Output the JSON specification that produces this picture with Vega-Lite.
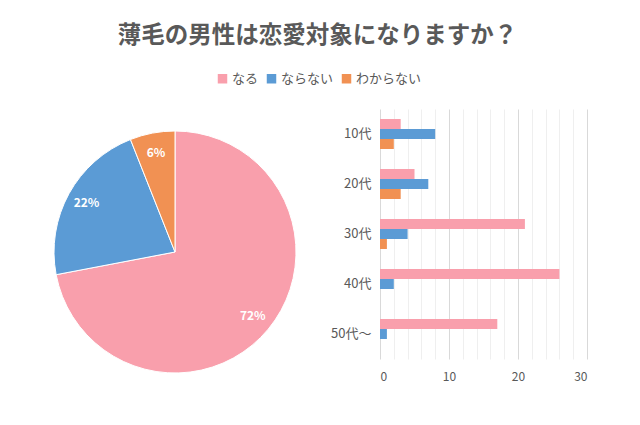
{
  "$schema": "https://vega.github.io/schema/vega-lite/v6.json",
  "background": "white",
  "padding": {"left": 20, "top": 23, "right": 10, "bottom": 10},
  "title": {
    "text": "薄毛の男性は恋愛対象になりますか？",
    "fontSize": 23.5,
    "fontWeight": "bold",
    "color": "#595959",
    "anchor": "middle",
    "dx": 14,
    "offset": 25
  },
  "datasets": {
    "pie": [
      {"category": "なる", "value": 72, "label": "72%", "idx": 1},
      {"category": "ならない", "value": 22, "label": "22%", "idx": 2},
      {"category": "わからない", "value": 6, "label": "6%", "idx": 3}
    ],
    "bars": [
      {"age": "10代", "category": "なる", "value": 3},
      {"age": "10代", "category": "ならない", "value": 8},
      {"age": "10代", "category": "わからない", "value": 2},
      {"age": "20代", "category": "なる", "value": 5},
      {"age": "20代", "category": "ならない", "value": 7},
      {"age": "20代", "category": "わからない", "value": 3},
      {"age": "30代", "category": "なる", "value": 21},
      {"age": "30代", "category": "ならない", "value": 4},
      {"age": "30代", "category": "わからない", "value": 1},
      {"age": "40代", "category": "なる", "value": 26},
      {"age": "40代", "category": "ならない", "value": 2},
      {"age": "40代", "category": "わからない", "value": 0},
      {"age": "50代〜", "category": "なる", "value": 17},
      {"age": "50代〜", "category": "ならない", "value": 1},
      {"age": "50代〜", "category": "わからない", "value": 0}
    ]
  },
  "spacing": 0,
  "hconcat": [
    {
      "width": 310,
      "height": 286,
      "data": {"name": "pie"},
      "encoding": {
        "theta": {"field": "value", "type": "quantitative", "stack": true},
        "order": {"field": "idx", "type": "quantitative"},
        "color": {
          "field": "category",
          "type": "nominal",
          "scale": {"domain": ["なる", "ならない", "わからない"], "range": ["#F99FAC", "#5B9BD5", "#F19153"]},
          "legend": {
            "title": null,
            "orient": "none",
            "direction": "horizontal",
            "legendX": 196,
            "legendY": -37,
            "symbolType": "square",
            "symbolSize": 90,
            "symbolStrokeWidth": 0,
            "labelFontSize": 13,
            "labelColor": "#595959",
            "columnPadding": 6,
            "labelOffset": 3
          }
        }
      },
      "layer": [
        {"mark": {"type": "arc", "outerRadius": 121, "stroke": "white", "strokeWidth": 1}},
        {
          "mark": {"type": "text", "radius": 101, "color": "white", "fontWeight": "bold", "fontSize": 12},
          "encoding": {"text": {"field": "label", "type": "nominal"}, "color": {"value": "white"}}
        }
      ]
    },
    {
      "width": 207,
      "height": 250,
      "data": {"name": "bars"},
      "mark": {"type": "bar"},
      "encoding": {
        "y": {
          "field": "age",
          "type": "nominal",
          "sort": ["10代", "20代", "30代", "40代", "50代〜"],
          "scale": {"paddingInner": 0.4, "paddingOuter": 0.2},
          "axis": {
            "title": null,
            "ticks": false,
            "domain": false,
            "labelFontSize": 13,
            "labelColor": "#595959",
            "labelPadding": 9,
            "minExtent": 50,
            "maxExtent": 50
          }
        },
        "yOffset": {
          "field": "category",
          "type": "nominal",
          "sort": ["なる", "ならない", "わからない"],
          "scale": {"paddingInner": 0, "paddingOuter": 0}
        },
        "x": {
          "field": "value",
          "type": "quantitative",
          "scale": {"domain": [0, 30], "nice": false},
          "axis": {
            "title": null,
            "values": [0, 2, 4, 6, 8, 10, 12, 14, 16, 18, 20, 22, 24, 26, 28, 30],
            "labelExpr": "datum.value % 10 === 0 ? datum.label : ''",
            "ticks": false,
            "domain": false,
            "labelFontSize": 12,
            "labelColor": "#595959",
            "labelPadding": 12,
            "gridColor": {"condition": {"test": "datum.value % 10 === 0", "value": "#D9D9D9"}, "value": "#EFEFEF"},
            "gridWidth": 1
          }
        },
        "color": {"field": "category", "type": "nominal"}
      }
    }
  ],
  "resolve": {"scale": {"color": "shared"}},
  "config": {
    "font": "Noto Sans CJK JP",
    "view": {"stroke": null}
  }
}
